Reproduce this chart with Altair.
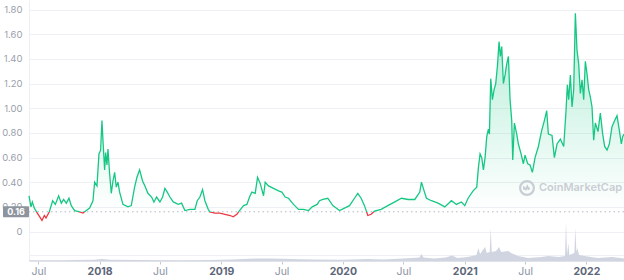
import altair as alt
import pandas as pd

# ---------------- data ----------------
price_dates = [
    "2017-06-03", "2017-06-09", "2017-06-13", "2017-06-19", "2017-06-28", "2017-07-12",
    "2017-07-19", "2017-07-24", "2017-08-03", "2017-08-13", "2017-08-21", "2017-08-31",
    "2017-09-08", "2017-09-15", "2017-09-23", "2017-10-01", "2017-10-08", "2017-10-18",
    "2017-11-02", "2017-11-12", "2017-11-22", "2017-12-02", "2017-12-12", "2017-12-17",
    "2017-12-24", "2017-12-30", "2018-01-04", "2018-01-08", "2018-01-11", "2018-01-16",
    "2018-01-19", "2018-01-23", "2018-01-26", "2018-01-31", "2018-02-05", "2018-02-10",
    "2018-02-15", "2018-02-20", "2018-02-25", "2018-03-02", "2018-03-12", "2018-03-27",
    "2018-04-06", "2018-04-16", "2018-04-23", "2018-05-01", "2018-05-10", "2018-05-17",
    "2018-05-26", "2018-06-06", "2018-06-13", "2018-06-21", "2018-07-01", "2018-07-09",
    "2018-07-16", "2018-07-23", "2018-07-31", "2018-08-10", "2018-08-25", "2018-09-04",
    "2018-09-14", "2018-09-29", "2018-10-14", "2018-10-21", "2018-10-29", "2018-11-06",
    "2018-11-13", "2018-11-23", "2018-11-28", "2018-12-13", "2018-12-28", "2019-01-12",
    "2019-01-28", "2019-02-06", "2019-02-17", "2019-02-25", "2019-03-09", "2019-03-19",
    "2019-03-27", "2019-04-03", "2019-04-13", "2019-04-20", "2019-04-28", "2019-05-08",
    "2019-05-13", "2019-05-23", "2019-06-07", "2019-06-22", "2019-07-02", "2019-07-12",
    "2019-07-22", "2019-08-06", "2019-08-21", "2019-09-05", "2019-09-20", "2019-10-01",
    "2019-10-16", "2019-10-23", "2019-11-02", "2019-11-17", "2019-12-02", "2019-12-22",
    "2020-01-06", "2020-01-21", "2020-02-05", "2020-02-15", "2020-02-25", "2020-03-06",
    "2020-03-16", "2020-03-26", "2020-04-05", "2020-04-25", "2020-05-15", "2020-06-05",
    "2020-06-25", "2020-07-15", "2020-08-04", "2020-08-19", "2020-08-24", "2020-09-01",
    "2020-09-08", "2020-09-23", "2020-10-13", "2020-11-02", "2020-11-22", "2020-12-07",
    "2020-12-22", "2021-01-01", "2021-01-11", "2021-01-26", "2021-02-06", "2021-02-11",
    "2021-02-16", "2021-02-21", "2021-02-26", "2021-03-03", "2021-03-08", "2021-03-13",
    "2021-03-16", "2021-03-20", "2021-03-25", "2021-03-30", "2021-04-04", "2021-04-09",
    "2021-04-14", "2021-04-18", "2021-04-22", "2021-04-27", "2021-05-02", "2021-05-07",
    "2021-05-12", "2021-05-17", "2021-05-22", "2021-05-25", "2021-05-30", "2021-06-06",
    "2021-06-11", "2021-06-19", "2021-06-26", "2021-07-01", "2021-07-09", "2021-07-16",
    "2021-07-23", "2021-07-31", "2021-08-10", "2021-08-20", "2021-08-28", "2021-09-04",
    "2021-09-09", "2021-09-20", "2021-09-27", "2021-10-05", "2021-10-15", "2021-10-25",
    "2021-11-01", "2021-11-05", "2021-11-09", "2021-11-14", "2021-11-19", "2021-11-24",
    "2021-11-29", "2021-12-04", "2021-12-09", "2021-12-14", "2021-12-19", "2021-12-24",
    "2021-12-29", "2022-01-03", "2022-01-08", "2022-01-13", "2022-01-18", "2022-01-23",
    "2022-01-28", "2022-02-05", "2022-02-12", "2022-02-19", "2022-02-25", "2022-03-04",
    "2022-03-11", "2022-03-19", "2022-03-27", "2022-04-03", "2022-04-10", "2022-04-16",
    "2022-04-20", "2022-04-24",
]
price_values = [
    0.29, 0.20, 0.24, 0.19, 0.15, 0.09,
    0.13, 0.11, 0.16, 0.25, 0.22, 0.29,
    0.23, 0.26, 0.23, 0.27, 0.21, 0.17,
    0.16, 0.15, 0.17, 0.19, 0.25, 0.40,
    0.37, 0.63, 0.66, 0.90, 0.74, 0.50,
    0.64, 0.54, 0.67, 0.47, 0.31, 0.41,
    0.48, 0.36, 0.40, 0.32, 0.22, 0.20,
    0.21, 0.36, 0.44, 0.50, 0.41, 0.37,
    0.31, 0.28, 0.24, 0.28, 0.24, 0.28,
    0.35, 0.32, 0.28, 0.24, 0.22, 0.23,
    0.17, 0.18, 0.18, 0.25, 0.28, 0.34,
    0.25, 0.18, 0.16, 0.15, 0.15, 0.14,
    0.13, 0.12, 0.14, 0.17, 0.21, 0.22,
    0.28, 0.32, 0.31, 0.44, 0.39, 0.29,
    0.40, 0.37, 0.35, 0.33, 0.32, 0.28,
    0.27, 0.22, 0.18, 0.18, 0.17, 0.20,
    0.22, 0.25, 0.26, 0.27, 0.21, 0.17,
    0.19, 0.21, 0.27, 0.31, 0.27, 0.21,
    0.13, 0.14, 0.165, 0.18, 0.21, 0.24,
    0.27, 0.26, 0.26, 0.32, 0.40, 0.33,
    0.27, 0.25, 0.23, 0.20, 0.25, 0.22,
    0.24, 0.21, 0.27, 0.33, 0.36, 0.52,
    0.63, 0.60, 0.50, 0.60, 0.77, 0.83,
    0.79, 1.24, 1.07, 1.15, 1.20, 1.34,
    1.54, 1.42, 1.50, 1.20, 1.27, 1.36,
    1.42, 1.07, 0.90, 0.58, 0.88, 0.79,
    0.71, 0.63, 0.55, 0.62, 0.55, 0.54,
    0.48, 0.60, 0.69, 0.82, 0.90, 0.98,
    0.79, 0.78, 0.60, 0.71, 0.75, 0.69,
    0.98, 1.19, 1.07, 1.27, 1.01, 1.15,
    1.77, 1.47, 1.36, 1.12, 1.23, 1.07,
    1.38, 1.28, 1.15, 1.09, 1.01, 0.74,
    0.88, 0.81, 0.96, 0.79, 0.69, 0.66,
    0.71, 0.85, 0.90, 0.94, 0.82, 0.71,
    0.77, 0.79,
]

volume_dates = [
    "2017-06-03", "2017-09-01", "2017-12-15", "2018-01-08", "2018-02-01", "2018-05-01",
    "2018-09-01", "2018-12-01", "2019-02-01", "2019-04-20", "2019-06-01", "2019-08-01",
    "2019-10-01", "2020-01-01", "2020-03-16", "2020-05-01", "2020-07-01", "2020-08-18",
    "2020-08-24", "2020-08-30", "2020-10-01", "2020-11-05", "2020-11-24", "2020-12-10",
    "2021-01-10", "2021-02-05", "2021-02-11", "2021-02-16", "2021-03-03", "2021-03-08",
    "2021-03-17", "2021-03-20", "2021-03-23", "2021-04-05", "2021-04-14", "2021-04-20",
    "2021-05-12", "2021-05-20", "2021-06-10", "2021-07-10", "2021-08-20", "2021-09-08",
    "2021-10-10", "2021-10-29", "2021-11-01", "2021-11-04", "2021-11-08", "2021-11-11",
    "2021-11-26", "2021-11-29", "2021-12-02", "2021-12-05", "2021-12-10", "2022-01-05",
    "2022-02-05", "2022-03-19", "2022-04-24",
]
volume_values = [
    0.8, 0.8, 1.2, 2.0, 1.2, 1.0,
    0.8, 1.0, 1.5, 2.5, 2.5, 2.0,
    1.5, 1.3, 2.0, 1.5, 2.5, 3.5,
    7.0, 3.5, 2.5, 3.5, 5.5, 3.0,
    4.0, 6.0, 13.0, 7.0, 14.0, 8.0,
    9.0, 33.0, 9.0, 10.0, 14.0, 9.0,
    10.0, 8.0, 5.0, 3.0, 4.0, 5.0,
    4.0, 5.0, 39.0, 6.0, 18.0, 6.0,
    8.0, 33.0, 9.0, 13.0, 6.0, 4.5,
    3.0, 4.0, 2.5,
]
volume_grid = [5.5]

y_ticks = [0, 0.2, 0.4, 0.6, 0.8, 1.0, 1.2, 1.4, 1.6, 1.8]
x_ticks = [(2017, 7), (2018, 1), (2018, 7), (2019, 1), (2019, 7), (2020, 1),
           (2020, 7), (2021, 1), (2021, 7), (2022, 1)]
baseline = 0.16
watermark = "CoinMarketCap"

# ---------------- styling ----------------
GREEN = "#16c784"
RED = "#ea3943"
FONT = "Inter"
W, H = 595, 261

price = pd.DataFrame({"date": price_dates, "price": price_values})
vol = pd.DataFrame({"date": volume_dates, "volume": volume_values})
vgrid = pd.DataFrame({"v": volume_grid})
one = pd.DataFrame({"k": [0]})

hi, lo = max(price_values), min(price_values)
split = (hi - baseline) / (hi - lo)

line_gradient = alt.Gradient(
    gradient="linear", x1=0, x2=0, y1=0, y2=1,
    stops=[
        alt.GradientStop(offset=0, color=GREEN),
        alt.GradientStop(offset=split, color=GREEN),
        alt.GradientStop(offset=split, color=RED),
        alt.GradientStop(offset=1, color=RED),
    ],
)
area_gradient = alt.Gradient(
    gradient="linear", x1=0, x2=0, y1=0, y2=1,
    stops=[
        alt.GradientStop(offset=0, color="rgba(22,199,132,0.32)"),
        alt.GradientStop(offset=1, color="rgba(22,199,132,0.0)"),
    ],
)

yscale = alt.Scale(domain=[-0.239, 1.878], nice=False, zero=False)
volscale = alt.Scale(domain=[0, 40], range=[H, H - 40], nice=False)
xscale = alt.Scale(
    type="utc",
    domain=[alt.DateTime(year=2017, month=6, date=3, utc=True),
            alt.DateTime(year=2022, month=4, date=24, utc=True)],
)

is_year = "utcFormat(datum.value, '%m') == '01'"
x_axis = alt.Axis(
    values=[alt.DateTime(year=y, month=m, date=1, utc=True) for y, m in x_ticks],
    labelExpr=f"{is_year} ? utcFormat(datum.value, '%Y') : 'Jul'",
    title=None, grid=False,
    domainColor="#dfe2e8", tickColor="#c3c8d1", tickSize=3,
    labelPadding=2, labelFontSize=10.5, labelFont=FONT,
    labelColor={"condition": {"test": is_year, "value": "#5d6679"}, "value": "#8a92a3"},
    labelFontWeight={"condition": {"test": is_year, "value": "bold"}, "value": "normal"},
)
y_axis = alt.Axis(
    values=y_ticks, orient="left",
    labelExpr="datum.value == 0 ? '0' : format(datum.value, '.2f')",
    title=None, grid=True, gridColor="#eef0f3", domain=True, domainColor="#eceef2",
    ticks=False, labelPadding=7, labelFontSize=9.5, labelFont=FONT,
    labelColor="#9aa0aa", zindex=0,
)

X = alt.X("date:T", scale=xscale, axis=x_axis)

volume_area = alt.Chart(vol).mark_area(color="#cdd3df", opacity=0.95).encode(
    x=X, y=alt.Y("volume:Q", scale=volscale, axis=None)
)
volume_rule = alt.Chart(vgrid).mark_rule(color="#eef0f3").encode(
    y=alt.Y("v:Q", scale=volscale, axis=None)
)

price_area = alt.Chart(price).transform_calculate(
    top=f"max(datum.price, {baseline})"
).mark_area(color=area_gradient).encode(
    x=X,
    y=alt.Y("top:Q", scale=yscale, axis=None),
    y2=alt.Y2(datum=baseline),
)

base_rule = alt.Chart(one).mark_rule(
    color="#b3b8c0", strokeDash=[1.5, 3], strokeWidth=1
).encode(y=alt.Y(datum=baseline, scale=yscale, axis=None))

price_line = alt.Chart(price).mark_line(stroke=line_gradient, strokeWidth=1.3).encode(
    x=X, y=alt.Y("price:Q", scale=yscale, axis=y_axis)
)

tag_box = alt.Chart(one).mark_rect(
    color="#8d949e", yOffset=-5.5, y2Offset=5.5, cornerRadius=1
).encode(
    x=alt.value(-26), x2=alt.value(0),
    y=alt.Y(datum=baseline, scale=yscale, axis=None), y2=alt.Y2(datum=baseline),
)
tag_text = alt.Chart(one).mark_text(
    text=f"{baseline:.2f}", color="white", fontSize=9, fontWeight="bold",
    font=FONT, align="center", baseline="middle",
).encode(x=alt.value(-13), y=alt.Y(datum=baseline, scale=yscale, axis=None))

logo_ring = alt.Chart(one).mark_point(
    shape="circle", filled=False, size=190, strokeWidth=2.2, color="#c9cdd4", opacity=1
).encode(x=alt.value(498), y=alt.value(188))
logo_wave = alt.Chart(one).mark_point(
    shape="M-0.62,0.35L-0.62,-0.05L-0.25,0.3L0.05,-0.3L0.3,0.2L0.6,0.02",
    filled=False, size=90, strokeWidth=2, color="#c9cdd4", opacity=1,
).encode(x=alt.value(498), y=alt.value(188))
logo_text = alt.Chart(one).mark_text(
    text=watermark, color="#c9cdd4", fontSize=11, fontWeight=600, font=FONT,
    align="left", baseline="middle",
).encode(x=alt.value(510), y=alt.value(188))

chart = alt.layer(
    volume_rule, volume_area, price_area, base_rule, price_line,
    tag_box, tag_text, logo_ring, logo_wave, logo_text,
).resolve_scale(y="independent").properties(
    width=W, height=H,
    autosize=alt.AutoSizeParams(type="none"),
    padding={"left": 29, "top": 0, "right": 0, "bottom": 19},
    background="white",
).configure_view(stroke=None)

chart.save("out.html", embed_options={"renderer": "svg", "actions": False})
